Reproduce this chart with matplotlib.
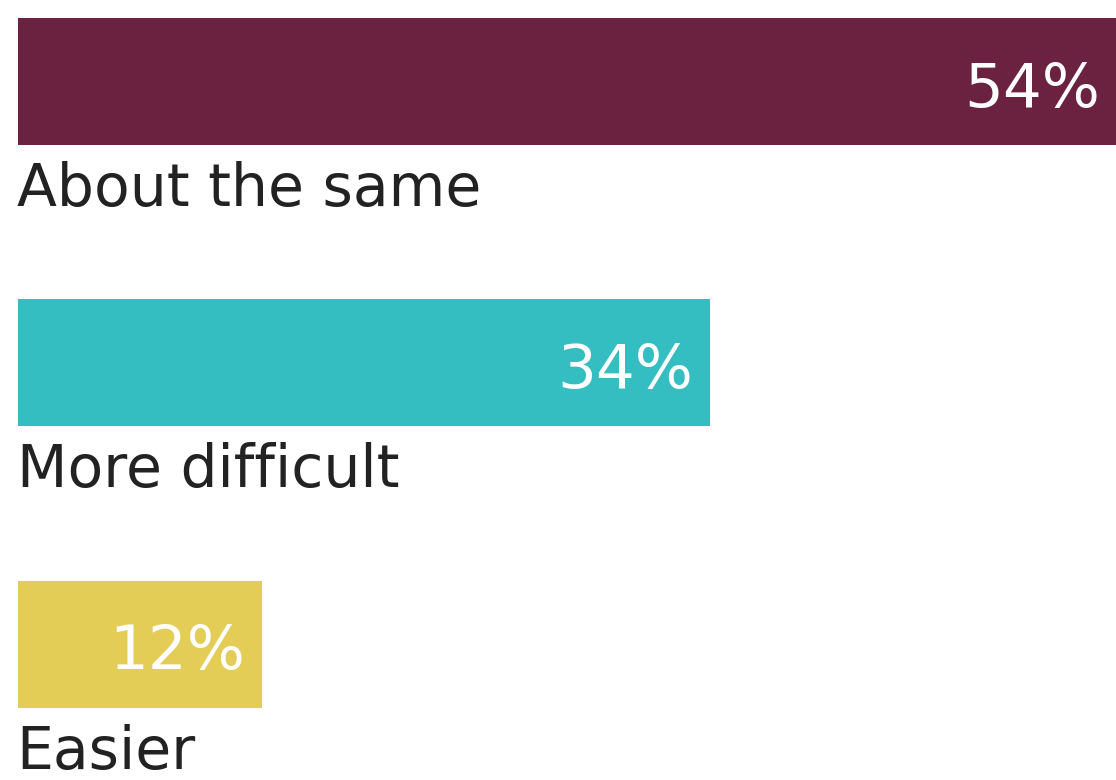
import matplotlib
matplotlib.use("Agg")
import matplotlib.pyplot as plt

# Survey answers and their shares (percent)
categories = ["About the same", "More difficult", "Easier"]
values = [54, 34, 12]
colors = ["#6B2140", "#35BEC1", "#E3CD57"]

plt.rcParams["font.family"] = ["DejaVu Sans"]

fig = plt.figure(figsize=(11.16, 7.80), dpi=100)
ax = fig.add_axes([0, 0, 1, 1])

px_per_unit = 20.35
ax.set_xlim(-18 / px_per_unit, (1116 - 18) / px_per_unit)
row_px = 281.25
top_px = 81.5
ax.set_ylim((780 - top_px) / row_px, -top_px / row_px)

pos = list(range(len(categories)))
bar_h = 127 / row_px
ax.barh(pos, values, height=bar_h, color=colors, left=0)

for y, cat, v in zip(pos, categories, values):
    # value inside the bar, right aligned
    ax.annotate(f"{v}%", xy=(v, y), xytext=(-12, -18), textcoords="offset points",
                ha="right", va="baseline", color="white", fontsize=44,
                annotation_clip=False)
    # category name below the bar
    ax.annotate(cat, xy=(0, y + bar_h / 2), xytext=(-1, -44), textcoords="offset points",
                ha="left", va="baseline", color="#222222", fontsize=42,
                annotation_clip=False)

ax.axis("off")
fig.savefig("out.png", dpi=100, facecolor="white")
